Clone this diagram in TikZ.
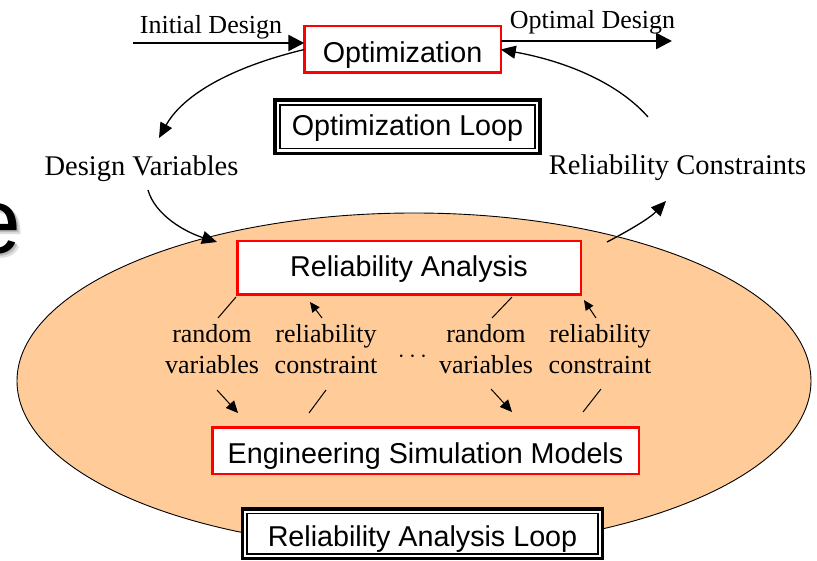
\documentclass[tikz,border=0pt]{standalone}
\usepackage{fontspec}
\setmainfont{Liberation Serif}
\setsansfont{Liberation Sans}
\usetikzlibrary{arrows.meta,calc}
\definecolor{peach}{RGB}{255,204,153}
\begin{document}
\begin{tikzpicture}[x=1pt,y=-1pt,
  redbox/.style={draw=red,line width=2.5pt,fill=white,font=\sffamily\fontsize{28.7}{34}\selectfont,inner sep=0pt,outer sep=0pt,text depth=0pt},
  loopbox/.style={draw=black,line width=3.2pt,fill=white,font=\sffamily\fontsize{28.7}{34}\selectfont,inner sep=0pt,outer sep=0pt,text depth=0pt},
  innerframe/.style={draw=black,line width=1.3pt},
  smalllbl/.style={font=\fontsize{26}{31}\selectfont,inner sep=0pt},
  biglbl/.style={font=\fontsize{28.5}{34}\selectfont,inner sep=0pt},
  inlbl/.style={font=\fontsize{26}{31}\selectfont,align=center,inner sep=0pt},
  bigarrow/.style={line width=2.5pt,-{Triangle[length=16pt,width=16pt]}},
  curvearrow/.style={line width=1.3pt,-{Triangle[length=15pt,width=13pt]}},
  downarrow/.style={line width=1pt,-{Triangle[length=12pt,width=11pt]}},
  uparrow/.style={line width=1pt,-{Triangle[length=10pt,width=9pt]}},
  thinline/.style={line width=1pt}
]
\useasboundingbox (0,0) rectangle (817,561);
\clip (0,0) rectangle (817,561);
\fill[white] (0,0) rectangle (817,561);

% partially hidden title letter with soft shadow
\node[anchor=base west,inner sep=0pt,font=\sffamily\fontsize{93}{100}\selectfont] (bigE) at (-30.6,254)
  {\rlap{\kern4pt\raisebox{-4pt}{\textcolor{gray!25}{e}}}\rlap{\kern2pt\raisebox{-2pt}{\textcolor{gray!55}{e}}}e};

% ellipse
\draw[fill=peach,line width=0.9pt] (414,381) ellipse [x radius=397, y radius=168];

% boxes
\node[redbox,minimum width=196.5pt,minimum height=46.5pt,text height=25.6pt] (opt) at (402.5,49.5) {Optimization};
\node[loopbox,minimum width=265pt,minimum height=53.3pt,text height=17pt] (optloop) at (407.5,126.7) {Optimization Loop};
\draw[innerframe] ($(optloop.north west)+(5,5)$) rectangle ($(optloop.south east)+(-5,-5)$);
\node[redbox,minimum width=343.5pt,minimum height=53.5pt,text height=18pt] (ra) at (409,268) {Reliability Analysis};
\node[redbox,minimum width=426.5pt,minimum height=46.5pt,text height=25.6pt] (esm) at (425.5,450.5) {Engineering Simulation Models};
\node[loopbox,minimum width=359.6pt,minimum height=49.3pt,text height=26pt] (ral) at (422.5,533.7) {Reliability Analysis Loop};
\draw[innerframe] ($(ral.north west)+(4.3,4.3)$) rectangle ($(ral.south east)+(-4.3,-4.3)$);

% labels
\node[smalllbl,anchor=base] (initlbl) at (211,34) {Initial Design};
\node[smalllbl,anchor=base] (optlbl) at (592.5,29) {Optimal Design};
\node[biglbl,anchor=base] (dv) at (141.5,176) {Design Variables};
\node[biglbl,anchor=base] (rc) at (677.5,175) {Reliability Constraints};
\node[inlbl] (rv1) at (212,349.6) {random\\variables};
\node[inlbl] (rc1) at (326,349.6) {reliability\\constraint};
\node[inlbl] (rv2) at (486,349) {random\\variables};
\node[inlbl] (rc2) at (600,349) {reliability\\constraint};
\node[inner sep=0pt,font=\fontsize{26}{31}\selectfont] (dots) at (412.5,357) {$\cdots$};

% coordinates for free ends
\coordinate (idstart) at (133,43);
\coordinate (odend) at (672,41);
\coordinate (dvstart) at (148,190);
\coordinate (ellin) at (217,242);
\coordinate (rastart) at (607,242);
\coordinate (rcend) at (666,201);
\coordinate (rctop) at (648,117);
\coordinate (dvtop) at (159,138);

% main connectors
\draw[bigarrow] (idstart) -- (idstart -| opt.west);
\draw[bigarrow] (odend -| opt.east) -- (odend);
\draw[curvearrow] (opt.west) .. controls (220,70) and (180,100) .. (dvtop);
\draw[curvearrow] (rctop) .. controls (620,85) and (570,62) .. (opt.east);
\draw[curvearrow] (dvstart) .. controls (155,215) and (185,232) .. (ellin);
\draw[curvearrow] (rastart) .. controls (630,230) and (650,218) .. (rcend);

% inner connectors
\coordinate (l1a) at (236,297); \coordinate (l1b) at (218,318);
\coordinate (a1a) at (322,318); \coordinate (a1b) at (310,302);
\coordinate (d1a) at (217,390); \coordinate (d1b) at (238,413);
\coordinate (l2a) at (326,390); \coordinate (l2b) at (309,413);
\coordinate (l3a) at (512,297); \coordinate (l3b) at (492,318);
\coordinate (a2a) at (596,318); \coordinate (a2b) at (584,300);
\coordinate (d2a) at (491,389); \coordinate (d2b) at (512,412);
\coordinate (l4a) at (601,389); \coordinate (l4b) at (583,412);
\draw[thinline] (l1a) -- (l1b);
\draw[uparrow] (a1a) -- (a1b);
\draw[downarrow] (d1a) -- (d1b);
\draw[thinline] (l2a) -- (l2b);
\draw[thinline] (l3a) -- (l3b);
\draw[uparrow] (a2a) -- (a2b);
\draw[downarrow] (d2a) -- (d2b);
\draw[thinline] (l4a) -- (l4b);
\end{tikzpicture}
\end{document}
